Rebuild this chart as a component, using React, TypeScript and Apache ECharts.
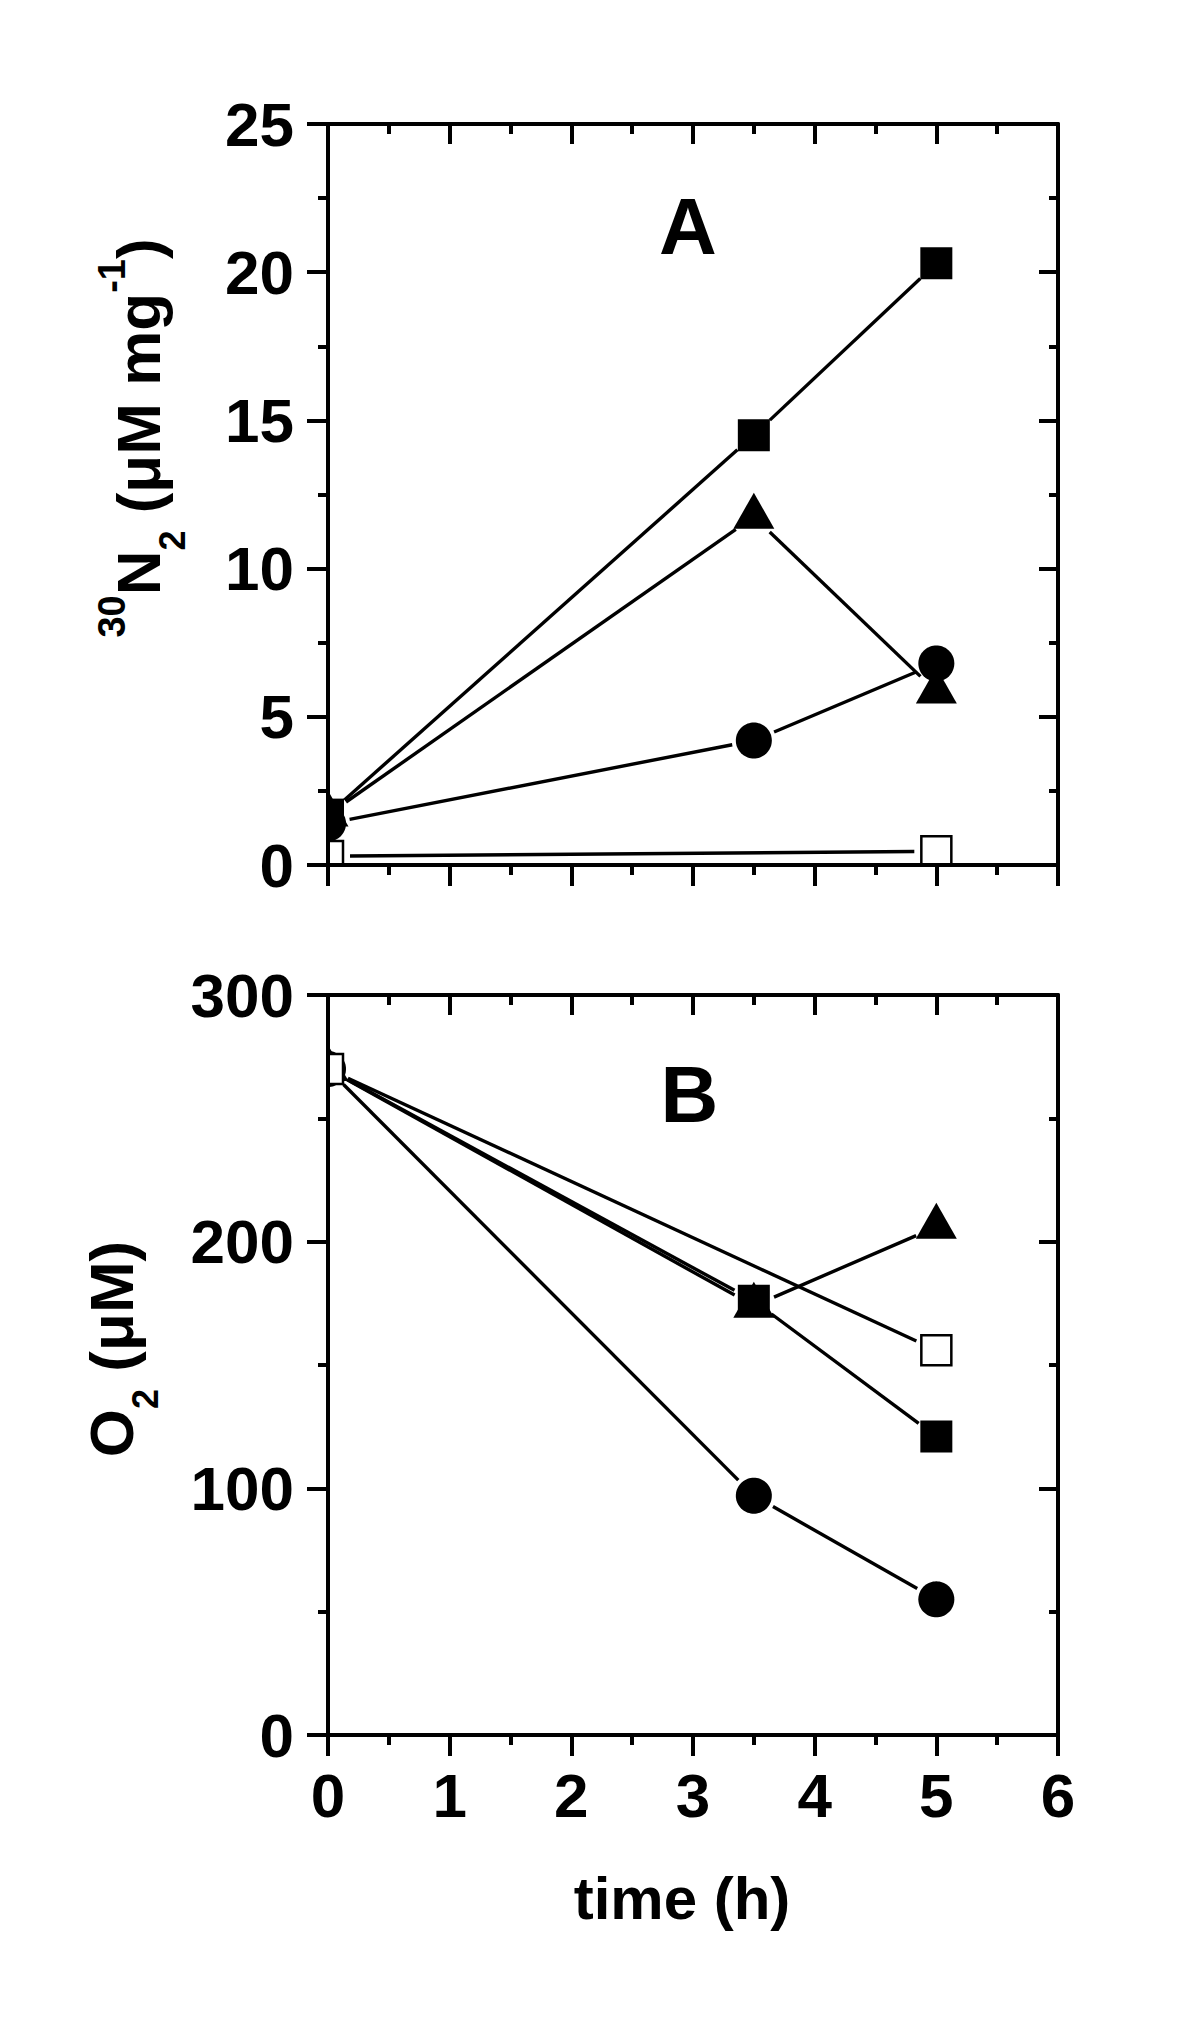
import React, { useEffect, useRef } from 'react';
import * as echarts from 'echarts';

// ---- data (time in hours) ----
const timePoints = [0, 3.5, 5];
const timeOpen = [0, 5];
// Panel A: 30N2 (µM mg-1)
const n2FilledSquare = [1.7, 14.5, 20.3];
const n2FilledTriangle = [1.7, 11.75, 5.85];
const n2FilledCircle = [1.4, 4.2, 6.8];
const n2OpenSquare = [0.3, 0.46];
// Panel B: O2 (µM)
const o2FilledSquare = [270, 176, 121];
const o2FilledTriangle = [270, 174, 206];
const o2FilledCircle = [270, 97, 55];
const o2OpenSquare = [270, 156];

// axis ranges
const xRange = { min: 0, max: 6, interval: 1 };
const yRangeA = { min: 0, max: 25, interval: 5 };
const yRangeB = { min: 0, max: 300, interval: 100 };

const FONT = '"Liberation Sans", Arial, Helvetica, sans-serif';
const GAP = 22;
const AXIS_W = 4;
const LINE_W = 3.4;

const zip = (xs: number[], ys: number[]) => xs.map((x, i) => [x, ys[i]]);

let measureCtx: CanvasRenderingContext2D | null = null;
function measure(text: string, fs: number) {
  if (!measureCtx) measureCtx = document.createElement('canvas').getContext('2d');
  measureCtx!.font = `bold ${fs}px ${FONT}`;
  return measureCtx!.measureText(text).width;
}

// Sutherland–Hodgman clipping of a polygon against an axis-aligned rectangle
function clipPoly(poly: number[][], r: { x: number; y: number; width: number; height: number }) {
  const edges: [(p: number[]) => boolean, (a: number[], b: number[]) => number[]][] = [];
  const x0 = r.x, x1 = r.x + r.width, y0 = r.y, y1 = r.y + r.height;
  const ix = (a: number[], b: number[], x: number) => {
    const t = (x - a[0]) / (b[0] - a[0]);
    return [x, a[1] + t * (b[1] - a[1])];
  };
  const iy = (a: number[], b: number[], y: number) => {
    const t = (y - a[1]) / (b[1] - a[1]);
    return [a[0] + t * (b[0] - a[0]), y];
  };
  edges.push([(p) => p[0] >= x0, (a, b) => ix(a, b, x0)]);
  edges.push([(p) => p[0] <= x1, (a, b) => ix(a, b, x1)]);
  edges.push([(p) => p[1] >= y0, (a, b) => iy(a, b, y0)]);
  edges.push([(p) => p[1] <= y1, (a, b) => iy(a, b, y1)]);
  let out = poly;
  for (const [inside, inter] of edges) {
    const input = out;
    out = [];
    if (!input.length) break;
    for (let i = 0; i < input.length; i++) {
      const cur = input[i];
      const prev = input[(i + input.length - 1) % input.length];
      const cin = inside(cur);
      const pin = inside(prev);
      if (cin) {
        if (!pin) out.push(inter(prev, cur));
        out.push(cur);
      } else if (pin) {
        out.push(inter(prev, cur));
      }
    }
  }
  return out;
}

function gapLine(points: number[][], xi: number, yi: number) {
  return {
    type: 'custom',
    coordinateSystem: 'cartesian2d',
    xAxisIndex: xi,
    yAxisIndex: yi,
    z: 1,
    silent: true,
    clip: false,
    data: points,
    encode: { x: 0, y: 1 },
    renderItem: (params: any, api: any) => {
      const i = params.dataIndex;
      if (i >= points.length - 1) return { type: 'group', children: [] };
      const p1 = api.coord(points[i]);
      const p2 = api.coord(points[i + 1]);
      const dx = p2[0] - p1[0];
      const dy = p2[1] - p1[1];
      const len = Math.hypot(dx, dy);
      if (len <= 2 * GAP) return { type: 'group', children: [] };
      const ux = dx / len;
      const uy = dy / len;
      return {
        type: 'line',
        shape: {
          x1: p1[0] + ux * GAP,
          y1: p1[1] + uy * GAP,
          x2: p2[0] - ux * GAP,
          y2: p2[1] - uy * GAP,
        },
        style: { stroke: '#000', lineWidth: LINE_W },
      };
    },
  };
}

function markerPolygon(kind: string, cx: number, cy: number) {
  if (kind === 'square') {
    return [[cx - 16, cy - 16], [cx + 16, cy - 16], [cx + 16, cy + 16], [cx - 16, cy + 16]];
  }
  if (kind === 'open') {
    return [[cx - 15, cy - 15], [cx + 15, cy - 15], [cx + 15, cy + 15], [cx - 15, cy + 15]];
  }
  if (kind === 'triangle') {
    return [[cx, cy - 24], [cx + 20.5, cy + 12], [cx - 20.5, cy + 12]];
  }
  const pts: number[][] = [];
  const n = 72;
  for (let k = 0; k < n; k++) {
    const a = (k / n) * Math.PI * 2;
    pts.push([cx + 18 * Math.cos(a), cy + 18 * Math.sin(a)]);
  }
  return pts;
}

function markers(points: number[][], xi: number, yi: number, kind: string, z: number) {
  return {
    type: 'custom',
    coordinateSystem: 'cartesian2d',
    xAxisIndex: xi,
    yAxisIndex: yi,
    z,
    silent: true,
    clip: false,
    data: points,
    encode: { x: 0, y: 1 },
    renderItem: (params: any, api: any) => {
      const p = api.coord([api.value(0), api.value(1)]);
      const cs = params.coordSys;
      const poly = clipPoly(markerPolygon(kind, p[0], p[1]), {
        x: cs.x,
        y: cs.y,
        width: cs.width,
        height: cs.height,
      });
      if (poly.length < 3) return { type: 'group', children: [] };
      const style =
        kind === 'open'
          ? { fill: '#fff', stroke: '#000', lineWidth: 2.5, lineJoin: 'miter' }
          : { fill: '#000' };
      return { type: 'polygon', shape: { points: poly }, style };
    },
  };
}

const tickLabel = {
  color: '#000',
  fontFamily: FONT,
  fontWeight: 'bold',
  fontSize: 62,
};

function xAxes(gridIndex: number, showLabels: boolean) {
  const common: any = {
    type: 'value',
    gridIndex,
    min: xRange.min,
    max: xRange.max,
    interval: xRange.interval,
    z: 10,
    splitLine: { show: false },
    minorSplitLine: { show: false },
    axisLine: { show: true, onZero: false, lineStyle: { color: '#000', width: AXIS_W } },
    minorTick: { show: true, splitNumber: 2, length: 10, lineStyle: { color: '#000', width: AXIS_W } },
  };
  return [
    {
      ...common,
      position: 'bottom',
      axisTick: { show: true, inside: false, length: 21, lineStyle: { color: '#000', width: AXIS_W } },
      axisLabel: showLabels ? { show: true, margin: 29, ...tickLabel } : { show: false },
    },
    {
      ...common,
      position: 'top',
      axisTick: { show: true, inside: true, length: 20, lineStyle: { color: '#000', width: AXIS_W } },
      axisLabel: { show: false },
    },
  ];
}

function yAxes(gridIndex: number, range: { min: number; max: number; interval: number }) {
  const common: any = {
    type: 'value',
    gridIndex,
    min: range.min,
    max: range.max,
    interval: range.interval,
    z: 10,
    splitLine: { show: false },
    minorSplitLine: { show: false },
    axisLine: { show: true, onZero: false, lineStyle: { color: '#000', width: AXIS_W } },
    minorTick: { show: true, splitNumber: 2, length: 10, lineStyle: { color: '#000', width: AXIS_W } },
  };
  return [
    {
      ...common,
      position: 'left',
      axisTick: { show: true, inside: false, length: 21, lineStyle: { color: '#000', width: AXIS_W } },
      axisLabel: { show: true, margin: 34, ...tickLabel },
    },
    {
      ...common,
      position: 'right',
      axisTick: { show: true, inside: true, length: 19, lineStyle: { color: '#000', width: AXIS_W } },
      minorTick: { show: true, splitNumber: 2, length: 9, lineStyle: { color: '#000', width: AXIS_W } },
      axisLabel: { show: false },
    },
  ];
}

type Piece = { t?: string; gap?: number; fs: number; base: number };

function rotatedTitle(pieces: Piece[], baselineX: number, centerY: number) {
  const widths = pieces.map((p) => (p.t ? measure(p.t, p.fs) : p.gap || 0));
  const W = widths.reduce((a, b) => a + b, 0);
  let lx = -W / 2;
  const children: any[] = [];
  pieces.forEach((p, i) => {
    if (p.t) {
      children.push({
        type: 'text',
        x: lx,
        y: p.base - 0.3465 * p.fs,
        style: {
          text: p.t,
          fontSize: p.fs,
          fontWeight: 'bold',
          fontFamily: FONT,
          fill: '#000',
          align: 'left',
          verticalAlign: 'middle',
          textAlign: 'left',
          textVerticalAlign: 'middle',
        },
      });
    }
    lx += widths[i];
  });
  return { type: 'group', x: baselineX, y: centerY, rotation: Math.PI / 2, children };
}

function plainText(text: string, x: number, baselineY: number, fs: number) {
  return {
    type: 'text',
    x,
    y: baselineY - 0.3465 * fs,
    z: 20,
    style: {
      text,
      fontSize: fs,
      fontWeight: 'bold',
      fontFamily: FONT,
      fill: '#000',
      align: 'center',
      verticalAlign: 'middle',
      textAlign: 'center',
      textVerticalAlign: 'middle',
    },
  };
}

export default function App() {
  const ref = useRef<HTMLDivElement>(null);

  useEffect(() => {
    if (!ref.current) return;
    const chart = echarts.init(ref.current, undefined, { renderer: 'svg' });

    const space = measure(' ', 62);
    const titleA = rotatedTitle(
      [
        { t: '30', fs: 38, base: -35 },
        { t: 'N', fs: 62, base: 0 },
        { t: '2', fs: 36, base: 25 },
        { gap: space, fs: 62, base: 0 },
        { t: '(μM mg', fs: 62, base: 0 },
        { t: '-1', fs: 38, base: -35 },
        { t: ')', fs: 62, base: 0 },
      ],
      160,
      438
    );
    const titleB = rotatedTitle(
      [
        { t: 'O', fs: 62, base: 0 },
        { t: '2', fs: 36, base: 25 },
        { gap: space, fs: 62, base: 0 },
        { t: '(μM)', fs: 62, base: 0 },
      ],
      133,
      1349
    );

    const option: any = {
      animation: false,
      backgroundColor: '#fff',
      grid: [
        { left: 328, top: 124, width: 730, height: 741 },
        { left: 328, top: 995, width: 730, height: 740 },
      ],
      xAxis: [...xAxes(0, false), ...xAxes(1, true)],
      yAxis: [...yAxes(0, yRangeA), ...yAxes(1, yRangeB)],
      series: [
        // Panel A lines
        gapLine(zip(timePoints, n2FilledSquare), 0, 0),
        gapLine(zip(timePoints, n2FilledTriangle), 0, 0),
        gapLine(zip(timePoints, n2FilledCircle), 0, 0),
        gapLine(zip(timeOpen, n2OpenSquare), 0, 0),
        // Panel A markers
        markers(zip(timePoints, n2FilledTriangle), 0, 0, 'triangle', 2),
        markers(zip(timePoints, n2FilledCircle), 0, 0, 'circle', 3),
        markers(zip(timePoints, n2FilledSquare), 0, 0, 'square', 3),
        markers(zip(timeOpen, n2OpenSquare), 0, 0, 'open', 4),
        // Panel B lines
        gapLine(zip(timePoints, o2FilledSquare), 2, 2),
        gapLine(zip(timePoints, o2FilledTriangle), 2, 2),
        gapLine(zip(timePoints, o2FilledCircle), 2, 2),
        gapLine(zip(timeOpen, o2OpenSquare), 2, 2),
        // Panel B markers
        markers(zip(timePoints, o2FilledTriangle), 2, 2, 'triangle', 2),
        markers(zip(timePoints, o2FilledCircle), 2, 2, 'circle', 3),
        markers(zip(timePoints, o2FilledSquare), 2, 2, 'square', 3),
        markers(zip(timeOpen, o2OpenSquare), 2, 2, 'open', 4),
      ],
      graphic: [
        plainText('A', 688, 254, 80),
        plainText('B', 689.5, 1122, 80),
        plainText('time (h)', 682, 1919, 60),
        { ...titleA, z: 20 },
        { ...titleB, z: 20 },
      ],
    };

    chart.setOption(option);
    return () => {
      chart.dispose();
    };
  }, []);

  return (
    <div
      ref={ref}
      style={{ position: 'absolute', left: 0, top: 0, width: 1200, height: 2042, background: '#fff' }}
    />
  );
}
